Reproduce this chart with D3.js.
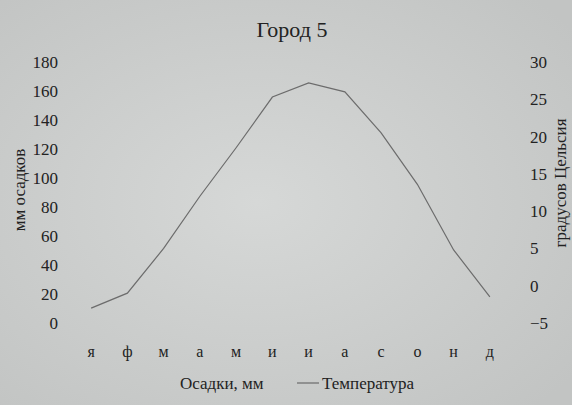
<!DOCTYPE html>
<html lang="ru">
<head>
    <meta charset="UTF-8">
    <title>Город 5</title>
    <style>
        body {
            margin: 0;
            font-family: 'Times New Roman', 'Liberation Serif', 'DejaVu Serif', serif;
        }
        .axis path,
        .axis line {
            display: none;
        }
        .axis text {
            font-family: 'Times New Roman', 'Liberation Serif', 'DejaVu Serif', serif;
            font-size: 17px;
            fill: #222;
        }
        .month text {
            font-size: 16px;
        }
        .label {
            font-family: 'Times New Roman', 'Liberation Serif', 'DejaVu Serif', serif;
            font-size: 17px;
            fill: #222;
        }
    </style>
</head>
<body>
    <div id="chart"></div>

    <script src="https://d3js.org/d3.v7.min.js"></script>
    <script>
        // данные с картинки
        const months = ['я', 'ф', 'м', 'а', 'м', 'и', 'и', 'а', 'с', 'о', 'н', 'д'];
        const precipitation = [0, 0, 0, 0, 0, 0, 0, 0, 0, 0, 0, 0];
        const temperature = [-3, -1, 5, 12, 18.5, 25.3, 27.2, 26, 20.5, 13.6, 4.8, -1.5];
        const precipTicks = [0, 20, 40, 60, 80, 100, 120, 140, 160, 180];
        const tempTicks = [-5, 0, 5, 10, 15, 20, 25, 30];

        const W = 572, H = 405;
        const margin = {top: 62, right: 64, bottom: 82, left: 73},
            width = W - margin.left - margin.right,
            height = H - margin.top - margin.bottom;

        const root = d3.select("#chart")
          .append("svg")
            .attr("width", W)
            .attr("height", H);

        // фон как на фото
        const grad = root.append("defs").append("radialGradient")
            .attr("id", "bg").attr("cx", "45%").attr("cy", "50%").attr("r", "70%");
        grad.append("stop").attr("offset", "0%").attr("stop-color", "#d6d8d7");
        grad.append("stop").attr("offset", "100%").attr("stop-color", "#c2c4c3");
        root.append("rect").attr("width", W).attr("height", H).attr("fill", "url(#bg)");

        const svg = root.append("g")
            .attr("transform", "translate(" + margin.left + "," + margin.top + ")");

        const x = d3.scaleBand()
            .domain(d3.range(months.length))
            .range([0, width]);

        const yLeft = d3.scaleLinear().domain([0, 180]).range([height, 0]);
        const yRight = d3.scaleLinear().domain([-5, 30]).range([height, 0]);

        // осадки (столбцы нулевой высоты)
        svg.selectAll(".bar")
            .data(precipitation)
            .join("rect")
              .attr("class", "bar")
              .attr("x", (d, i) => x(i) + x.bandwidth() * 0.2)
              .attr("width", x.bandwidth() * 0.6)
              .attr("y", d => yLeft(d))
              .attr("height", d => height - yLeft(d))
              .attr("fill", "#8a8a8a");

        // температура
        const line = d3.line()
            .x((d, i) => x(i) + x.bandwidth() / 2)
            .y(d => yRight(d));

        svg.append("path")
            .datum(temperature)
            .attr("d", line)
            .attr("fill", "none")
            .attr("stroke", "#6c6c6c")
            .attr("stroke-width", 1.2);

        // оси
        svg.append("g")
            .attr("class", "axis")
            .call(d3.axisLeft(yLeft).tickValues(precipTicks).tickSize(0).tickPadding(15));

        svg.append("g")
            .attr("class", "axis")
            .attr("transform", "translate(" + width + ",0)")
            .call(d3.axisRight(yRight).tickValues(tempTicks).tickSize(0).tickPadding(22));

        svg.append("g")
            .attr("class", "axis month")
            .attr("transform", "translate(0," + height + ")")
            .call(d3.axisBottom(x).tickFormat(i => months[i]).tickSize(0).tickPadding(23));

        // подписи
        root.append("text")
            .attr("class", "label")
            .attr("x", 292).attr("y", 37)
            .attr("text-anchor", "middle")
            .style("font-size", "22px")
            .text("Город 5");

        root.append("text")
            .attr("class", "label")
            .attr("transform", "translate(25,190) rotate(-90)")
            .attr("text-anchor", "middle")
            .text("мм осадков");

        root.append("text")
            .attr("class", "label")
            .attr("transform", "translate(566,183) rotate(-90)")
            .attr("text-anchor", "middle")
            .text("градусов Цельсия");

        // легенда
        root.append("text")
            .attr("class", "label")
            .attr("x", 180).attr("y", 389)
            .text("Осадки, мм");

        root.append("line")
            .attr("x1", 297).attr("x2", 319)
            .attr("y1", 383).attr("y2", 383)
            .attr("stroke", "#6c6c6c")
            .attr("stroke-width", 1.2);

        root.append("text")
            .attr("class", "label")
            .attr("x", 322).attr("y", 389)
            .text("Температура");
    </script>
</body>
</html>
